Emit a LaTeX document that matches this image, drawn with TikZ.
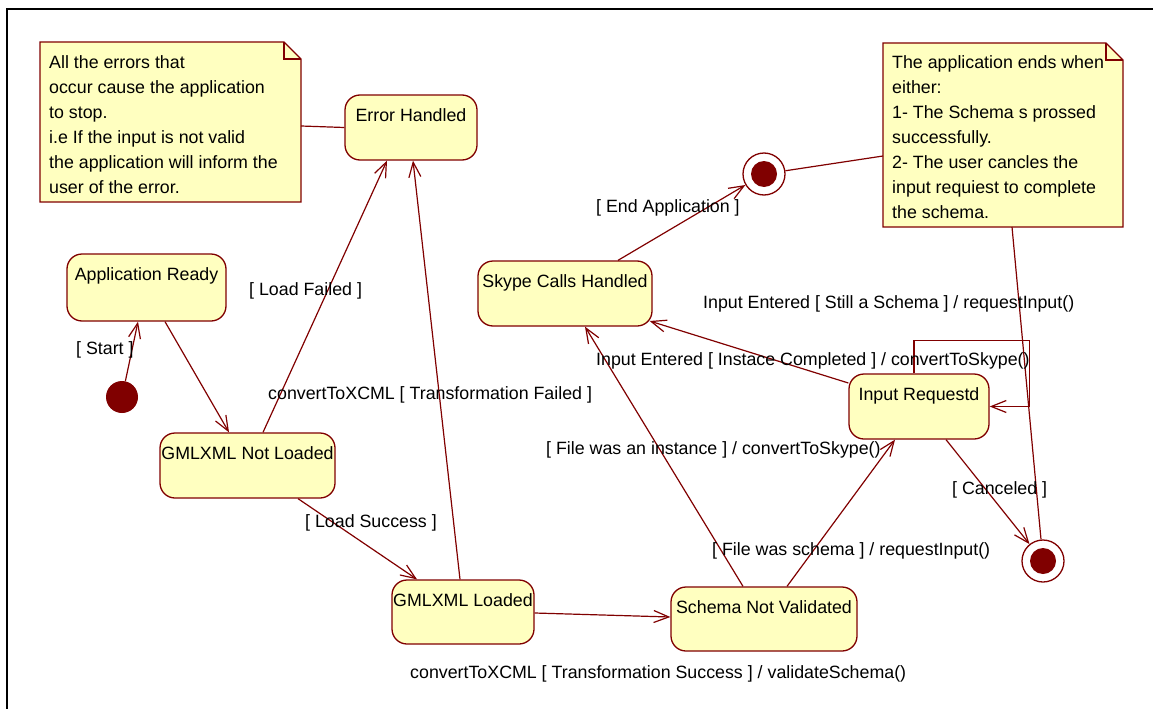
\documentclass[tikz,border=0pt]{standalone}
\usepackage{fontspec}
\setmainfont{Liberation Sans}
\usetikzlibrary{arrows.meta,calc}
\definecolor{umlred}{RGB}{128,0,0}
\definecolor{umlfill}{RGB}{255,255,192}

\begin{document}
\begin{tikzpicture}[x=1pt,y=-1pt,
  every node/.style={font=\fontsize{17.8}{25}\selectfont},
  state/.style n args={2}{draw=umlred, fill=umlfill, line width=1.3pt,
    rounded corners=15pt, inner xsep=0pt, inner ysep=0pt,
    minimum width=#1, text height=26pt, text depth=#2, align=center},
  initdot/.style={circle, fill=umlred, minimum size=32pt, inner sep=0pt},
  finaldot/.style={circle, draw=umlred, fill=white, line width=1.3pt,
    minimum size=42pt, inner sep=0pt,
    path picture={\fill[umlred] (path picture bounding box.center) circle (13pt);}},
  trans/.style={draw=umlred, line width=1.2pt, line join=miter,
    -{Straight Barb[length=15pt,width=12pt,line width=1.2pt]}},
  link/.style={draw=umlred, line width=1.2pt},
  notebg/.style={draw=umlred, fill=umlfill, line width=1.3pt, line join=miter},
  notetext/.style={anchor=north west, inner sep=0pt, align=left},
  lbl/.style={anchor=base west, inner sep=0pt}
]
\useasboundingbox (0,0) rectangle (1153,709);

% frame
\draw[line width=2.2pt] (1153,9) -- (7,9) -- (7,709);

% notes
\draw[notebg] (40,42) -- (284,42) -- (301,59) -- (301,202) -- (40,202) -- cycle;
\draw[umlred, line width=1.3pt] (284,42) -- (284,59) -- (301,59);
\node[notetext] (note1) at (49,55.2) {All the errors that\\occur cause the application\\to stop.\\i.e If the input is not valid\\the application will inform the\\user of the error.};
\coordinate (n1r) at (301,126);

\draw[notebg] (883,43) -- (1106,43) -- (1123,60) -- (1123,227) -- (883,227) -- cycle;
\draw[umlred, line width=1.3pt] (1106,43) -- (1106,60) -- (1123,60);
\node[notetext] (note2) at (892,55.2) {The application ends when\\either:\\1- The Schema s prossed\\successfully.\\2- The user cancles the\\input requiest to complete\\the schema.};
\coordinate (n2l) at (883,156);
\coordinate (n2b) at (1012,227);

% states
\node[state={132pt}{39pt}] (err) at (411,127.5) {Error Handled};
\node[state={159pt}{41pt}] (appready) at (146.5,287.5) {Application Ready};
\node[state={175pt}{39pt}] (notloaded) at (247.5,465.5) {GMLXML Not Loaded};
\node[state={142pt}{38pt}] (loaded) at (463,612) {GMLXML Loaded};
\node[state={186pt}{38pt}] (schema) at (764,619) {Schema Not Validated};
\node[state={174pt}{39pt}] (skype) at (565,293.5) {Skype Calls Handled};
\node[state={140pt}{39pt}] (input) at (919,406.5) {Input Requestd};

% pseudo states
\node[initdot] (init) at (122,397) {};
\node[finaldot] (fin1) at (764,174) {};
\node[finaldot] (fin2) at (1043,561) {};

% transitions
\draw[trans] (init) -- ($(appready.south)+(-8.5,0)$);
\draw[trans] ($(appready.south)+(18.5,0)$) -- ($(notloaded.north)+(-18.5,0)$);
\draw[trans] ($(notloaded.north)+(15.5,0)$) -- ($(err.south)+(-24,0)$);
\draw[trans] ($(notloaded.south)+(50.5,0)$) -- ($(loaded.north)+(-46,0)$);
\draw[trans] ($(loaded.north)+(-3,0)$) -- ($(err.south)+(2,0)$);
\draw[trans] ($(loaded.east)+(0,1)$) -- ($(schema.west)+(0,-2)$);
\draw[trans] ($(schema.north)+(-21,0)$) -- ($(skype.south)+(20,0)$);
\draw[trans] ($(schema.north)+(23,0)$) -- ($(input.south)+(-24,0)$);
\draw[trans] ($(skype.north)+(53,0)$) -- (fin1);
\draw[trans] ($(input.west)+(0,-23.5)$) -- ($(skype.east)+(-3,27.5)$);
\draw[trans] ($(input.north)+(-5,0)$) -- ++(0,-33) -| ($(input.east)+(40,0)$) -- (input.east);
\draw[trans] ($(input.south)+(27,0)$) -- (fin2);

% note anchors
\draw[link] (n1r) -- (err.west);
\draw[link] (fin1) -- (n2l);
\draw[link] (n2b) -- (fin2);

% transition labels
\node[lbl] (lstart) at (76,354) {[ Start ]};
\node[lbl] (lfail) at (249,295) {[ Load Failed ]};
\node[lbl] (ltfail) at (268,399) {convertToXCML [ Transformation Failed ]};
\node[lbl] (lsucc) at (305,527) {[ Load Success ]};
\node[lbl] (ltsucc) at (410,678) {convertToXCML [ Transformation Success ] / validateSchema()};
\node[lbl] (linst) at (546,454) {[ File was an instance ] / convertToSkype()};
\node[lbl] (lschema) at (712,555) {[ File was schema ] / requestInput()};
\node[lbl] (lend) at (596,212) {[ End Application ]};
\node[lbl] (lstill) at (703,308) {Input Entered [ Still a Schema ] / requestInput()};
\node[lbl] (ldone) at (596,365) {Input Entered [ Instace Completed ] / convertToSkype()};
\node[lbl] (lcancel) at (952,494) {[ Canceled ]};
\end{tikzpicture}
\end{document}
